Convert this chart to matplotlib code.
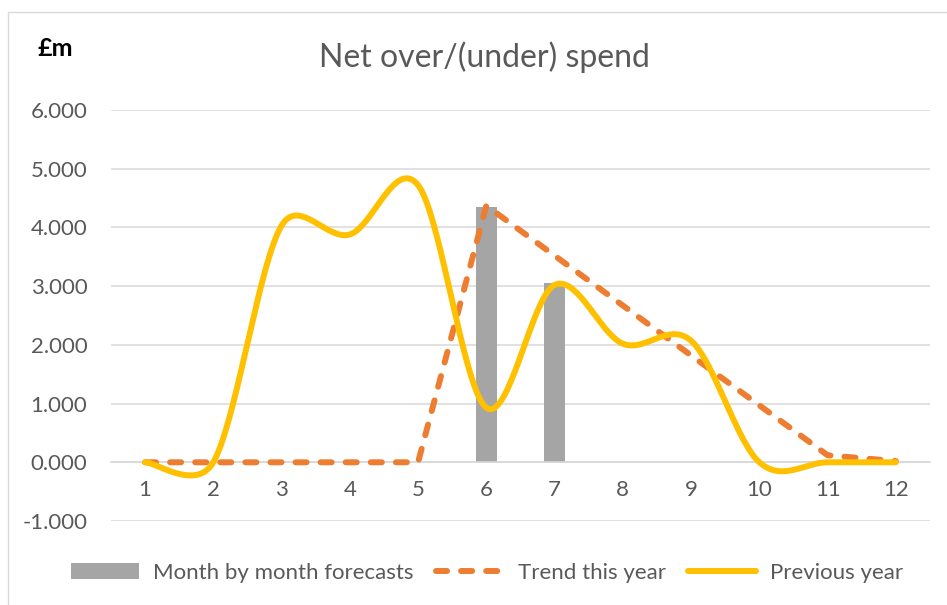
import numpy as np
import matplotlib.pyplot as plt
from matplotlib.patches import Rectangle

# Monthly figures, £m
months = list(range(1, 13))
forecast_months = [6, 7]
forecast = [4.35, 3.05]
trend = [0, 0, 0, 0, 0, 4.37, 3.52, 2.67, 1.82, 0.97, 0.12, 0.02]
previous = [0, 0, 4.03, 3.88, 4.72, 0.93, 3.02, 2.02, 2.07, 0, 0, 0]

y_ticks = [-1, 0, 1, 2, 3, 4, 5, 6]

GREY_TXT = '#595959'
GRID = '#D9D9D9'

plt.rcParams['font.family'] = ['Lato', 'DejaVu Sans']


def smooth(x, y, sx, sy, n=40):
    """Bezier smoothing of a polyline, worked out in screen-like units."""
    P = np.column_stack([np.asarray(x, float) * sx, np.asarray(y, float) * sy])
    out = []
    for i in range(len(P) - 1):
        p0 = P[i - 1] if i > 0 else P[i]
        p1, p2 = P[i], P[i + 1]
        p3 = P[i + 2] if i + 2 < len(P) else P[i + 1]
        d02 = np.linalg.norm(p2 - p0)
        d12 = np.linalg.norm(p2 - p1)
        d13 = np.linalg.norm(p3 - p1)
        f1 = 1 / 6 if d02 / 6 < d12 / 2 else d12 / (2 * d02)
        f2 = 1 / 6 if d13 / 6 < d12 / 2 else d12 / (2 * d13)
        c1 = p1 + (p2 - p0) * f1
        c2 = p2 - (p3 - p1) * f2
        t = np.linspace(0, 1, n)[:, None]
        seg = ((1 - t) ** 3) * p1 + 3 * ((1 - t) ** 2) * t * c1 \
            + 3 * (1 - t) * t ** 2 * c2 + t ** 3 * p2
        out.append(seg if i == 0 else seg[1:])
    out = np.vstack(out)
    return out[:, 0] / sx, out[:, 1] / sy


fig = plt.figure(figsize=(9.47, 6.05), dpi=100)

# light frame round the chart
fig.patches.append(Rectangle((8 / 947, -0.1), 1.1, 1 - 12 / 605 + 0.1,
                             transform=fig.transFigure, fill=False,
                             edgecolor=GRID, linewidth=1.0))

ax = fig.add_axes([110.9 / 947, 1 - 521 / 605, (930 - 110.9) / 947, 411 / 605])
ax.set_xlim(0.5, 12.5)
ax.set_ylim(-1, 6)

for s in ['top', 'right', 'left']:
    ax.spines[s].set_visible(False)
ax.spines['bottom'].set_position(('data', 0))
ax.spines['bottom'].set_color(GRID)
ax.spines['bottom'].set_linewidth(1.1)

ax.set_yticks(y_ticks)
ax.set_yticklabels([f'{v:.3f}' for v in y_ticks])
ax.set_xticks(months)
ax.set_xticklabels([str(m) for m in months])
ax.tick_params(axis='y', length=0, pad=17, labelsize=16, labelcolor=GREY_TXT)
ax.tick_params(axis='x', length=0, pad=13, labelsize=16, labelcolor=GREY_TXT)
ax.yaxis.grid(True, color=GRID, linewidth=1.1)
ax.set_axisbelow(True)

# pixels per unit, used so the smoothing follows the on-screen shape
sx = (930 - 110.9) / 12
sy = 411 / 7

bars = ax.bar(forecast_months, forecast, width=0.31, color='#A5A5A5', zorder=2,
              label='Month by month forecasts')

trend_line, = ax.plot(months, trend, color='#ED7D31', linewidth=4.3,
                      linestyle=(0, (1.85, 2.35)), dash_capstyle='round',
                      dash_joinstyle='round', zorder=3, label='Trend this year')

px, py = smooth(months, previous, sx, sy)
prev_line, = ax.plot(px, py, color='#FFC000', linewidth=4.3,
                     solid_capstyle='round', zorder=4, label='Previous year')

fig.text(484 / 947, 1 - 57 / 605, 'Net over/(under) spend', ha='center',
         va='center', fontsize=23, color=GREY_TXT)
fig.text(37 / 947, 1 - 49 / 605, '£m', ha='left', va='center',
         fontsize=18, fontweight='bold', color='black')

fig.legend(handles=[bars, trend_line, prev_line], loc='center',
           bbox_to_anchor=(487.5 / 947, 1 - 573 / 605), ncol=3,
           frameon=False, fontsize=16, labelcolor=GREY_TXT, handlelength=3.06,
           handletextpad=0.63, columnspacing=1.0)

fig.savefig('out.png', dpi=100)
